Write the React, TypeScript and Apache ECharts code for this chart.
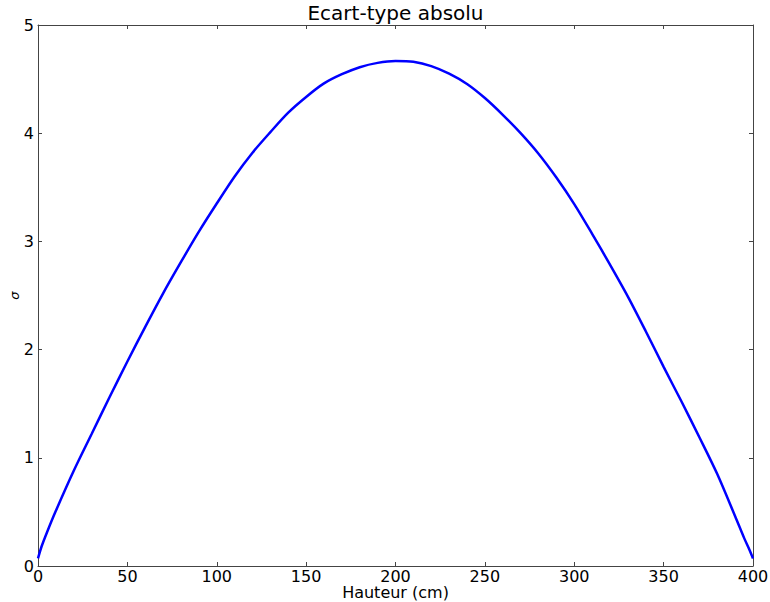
import React, { useEffect, useRef } from "react";
import * as echarts from "echarts";

const heights = [0, 2, 5, 10, 20, 30, 40, 50, 60, 70, 80, 90, 100, 110, 120, 130, 140, 150, 160, 170, 180, 190, 200, 210, 220, 230, 240, 250, 260, 270, 280, 290, 300, 310, 320, 330, 340, 350, 360, 370, 380, 390, 395, 398, 400];
const sigma = [0.07, 0.18, 0.31, 0.51, 0.88, 1.22, 1.56, 1.89, 2.21, 2.52, 2.81, 3.09, 3.35, 3.60, 3.82, 4.01, 4.19, 4.335, 4.46, 4.545, 4.61, 4.65, 4.667, 4.66, 4.62, 4.55, 4.455, 4.325, 4.17, 4.00, 3.81, 3.59, 3.345, 3.07, 2.785, 2.49, 2.17, 1.84, 1.52, 1.19, 0.85, 0.46, 0.26, 0.15, 0.07];
const xTicks = [0, 50, 100, 150, 200, 250, 300, 350, 400];
const yTicks = [0, 1, 2, 3, 4, 5];

const FONT = "DejaVu Sans";
const AXIS_COLOR = "#444";

export default function App() {
  const ref = useRef<HTMLDivElement>(null);
  useEffect(() => {
    if (!ref.current) return;
    const chart = echarts.init(ref.current, undefined, { renderer: "svg" });
    const data = heights.map((h, i) => [h, sigma[i]]);
    const axisCommon = {
      axisLine: { show: true, onZero: false, lineStyle: { color: AXIS_COLOR, width: 1 } },
      axisTick: { show: true, inside: true, length: 4, lineStyle: { color: AXIS_COLOR } },
      splitLine: { show: false },
    };
    chart.setOption({
      animation: false,
      backgroundColor: "#ffffff",
      title: {
        text: "Ecart-type absolu",
        left: 395.5,
        textAlign: "center",
        top: 3,
        padding: 0,
        textStyle: { fontFamily: FONT, fontSize: 20, fontWeight: "normal", color: "#000" },
      },
      grid: { left: 38, right: 17, top: 25, bottom: 36, containLabel: false, outerBoundsMode: "none" },
      xAxis: [
        {
          type: "value",
          min: xTicks[0],
          max: xTicks[xTicks.length - 1],
          interval: 50,
          position: "bottom",
          name: "Hauteur (cm)",
          nameLocation: "middle",
          nameMoveOverlap: false,
          nameGap: 18,
          nameTextStyle: { fontFamily: FONT, fontSize: 16, lineHeight: 16, color: "#000" },
          ...axisCommon,
          axisLabel: { show: true, margin: 3, fontFamily: FONT, fontSize: 16, lineHeight: 14, color: "#000" },
        },
        {
          type: "value",
          min: xTicks[0],
          max: xTicks[xTicks.length - 1],
          interval: 50,
          position: "top",
          ...axisCommon,
          axisLabel: { show: false },
        },
      ],
      yAxis: [
        {
          type: "value",
          min: yTicks[0],
          max: yTicks[yTicks.length - 1],
          interval: 1,
          position: "left",
          name: "σ",
          nameLocation: "middle",
          nameMoveOverlap: false,
          nameRotate: 90,
          nameGap: 17,
          nameTextStyle: { fontFamily: FONT, fontSize: 13, fontStyle: "italic", color: "#000" },
          ...axisCommon,
          axisLabel: { show: true, margin: 4, fontFamily: FONT, fontSize: 16, color: "#000" },
        },
        {
          type: "value",
          min: yTicks[0],
          max: yTicks[yTicks.length - 1],
          interval: 1,
          position: "right",
          ...axisCommon,
          axisLabel: { show: false },
        },
      ],
      series: [
        {
          type: "line",
          xAxisIndex: 0,
          yAxisIndex: 0,
          data,
          smooth: 0.3,
          showSymbol: false,
          lineStyle: { color: "#0000ff", width: 2.5 },
        },
      ],
    });
    return () => chart.dispose();
  }, []);
  return <div ref={ref} style={{ width: 770, height: 602, position: "absolute", left: 0, top: 0 }} />;
}
